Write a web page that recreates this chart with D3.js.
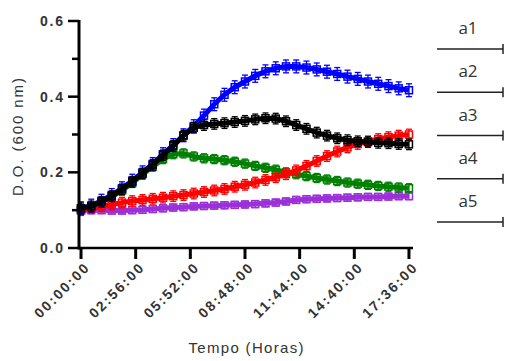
<!DOCTYPE html>
<html>
<head>
<meta charset="utf-8">
<script src="https://d3js.org/d3.v7.min.js"></script>
<style>
  html, body { margin: 0; padding: 0; background: #fff; }
  svg { display: block; }
</style>
</head>
<body>
<svg id="chart" width="505" height="361"></svg>
<script>
// ---- data (minutes since start) ----
const times = [0,33,66,99,132,165,198,231,264,297,330,363,396,429,462,495,528,561,594,627,660,693,726,759,792,825,858,891,924,957,990,1023,1056];

const blueValues   = [0.105,0.112,0.125,0.140,0.158,0.178,0.200,0.222,0.248,0.272,0.298,0.322,0.350,0.380,0.405,0.425,0.440,0.455,0.467,0.475,0.480,0.480,0.477,0.472,0.466,0.460,0.453,0.447,0.440,0.434,0.428,0.422,0.417];
const blackValues  = [0.105,0.110,0.122,0.137,0.155,0.175,0.197,0.220,0.245,0.270,0.297,0.318,0.325,0.328,0.330,0.333,0.336,0.340,0.343,0.342,0.335,0.325,0.315,0.305,0.297,0.290,0.285,0.282,0.280,0.278,0.277,0.275,0.274];
const greenValues  = [0.100,0.108,0.120,0.135,0.152,0.172,0.195,0.215,0.235,0.248,0.250,0.242,0.237,0.235,0.232,0.228,0.223,0.217,0.212,0.207,0.200,0.195,0.190,0.185,0.181,0.177,0.173,0.170,0.167,0.164,0.162,0.160,0.158];
const redValues    = [0.100,0.105,0.110,0.115,0.120,0.124,0.127,0.130,0.133,0.137,0.140,0.144,0.148,0.152,0.156,0.162,0.167,0.173,0.180,0.187,0.195,0.205,0.217,0.230,0.243,0.255,0.266,0.275,0.282,0.288,0.293,0.297,0.300];
const purpleValues = [0.100,0.100,0.100,0.099,0.099,0.100,0.101,0.103,0.105,0.107,0.108,0.110,0.111,0.112,0.113,0.114,0.115,0.116,0.118,0.120,0.123,0.127,0.129,0.130,0.131,0.132,0.133,0.134,0.135,0.135,0.136,0.137,0.137];

const seriesErrors = { purple: 0.009, green: 0.012, red: 0.014, blue: 0.017, black: 0.014 };

const xTickValues = [0,176,352,528,704,880,1056];
const xTickLabels = ["00:00:00","02:56:00","05:52:00","08:48:00","11:44:00","14:40:00","17:36:00"];
const yMajorTicks = [0,0.2,0.4,0.6];
const yMinorTicks = [0.1,0.3,0.5];
const legendLabels = ["a1","a2","a3","a4","a5"];

const series = [
  { name: "purple", color: "#9b30d9", values: purpleValues },
  { name: "green",  color: "#008000", values: greenValues },
  { name: "red",    color: "#ff0000", values: redValues },
  { name: "blue",   color: "#0000ff", values: blueValues },
  { name: "black",  color: "#000000", values: blackValues }
];

// ---- layout ----
const svg = d3.select("#chart");
const x = d3.scaleLinear().domain([-6.5, 1069]).range([79, 413]);
const y = d3.scaleLinear().domain([0, 0.6]).range([248, 21]);
const FONT = "'Liberation Sans', Arial, Helvetica, sans-serif";

// ---- series ----
const line = d3.line().x((d, i) => x(times[i])).y(d => y(d));
series.forEach(s => {
  const g = svg.append("g");
  const err = seriesErrors[s.name];
  g.append("path")
    .attr("d", line(s.values))
    .attr("fill", "none")
    .attr("stroke", s.color)
    .attr("stroke-width", 5);
  s.values.forEach((v, i) => {
    const cx = x(times[i]);
    g.append("line")
      .attr("x1", cx).attr("x2", cx)
      .attr("y1", y(v - err)).attr("y2", y(v + err))
      .attr("stroke", s.color).attr("stroke-width", 1.3);
    [v - err, v + err].forEach(e => {
      g.append("line")
        .attr("x1", cx - 3).attr("x2", cx + 3)
        .attr("y1", y(e)).attr("y2", y(e))
        .attr("stroke", s.color).attr("stroke-width", 1.3);
    });
    g.append("rect")
      .attr("x", cx - 3.5).attr("y", y(v) - 3.5)
      .attr("width", 7).attr("height", 7)
      .attr("fill", "none")
      .attr("stroke", s.color).attr("stroke-width", 1.5);
  });
});

// ---- axes ----
// Y axis
const yAxis = svg.append("g");
yAxis.append("line").attr("x1", 79).attr("x2", 79).attr("y1", y(0.6) - 1).attr("y2", y(0) + 1.5)
  .attr("stroke", "#000").attr("stroke-width", 3);
yMajorTicks.forEach(t => {
  yAxis.append("line").attr("x1", 68).attr("x2", 79).attr("y1", y(t)).attr("y2", y(t))
    .attr("stroke", "#000").attr("stroke-width", 2.5);
  yAxis.append("text").attr("x", 63).attr("y", y(t)).attr("dy", "0.36em")
    .attr("text-anchor", "end")
    .style("font-family", FONT).style("font-size", "14px").style("font-weight", "bold")
    .attr("textLength", 23).attr("lengthAdjust", "spacing")
    .attr("fill", "#333").text(d3.format(".1f")(t));
});
yMinorTicks.forEach(t => {
  yAxis.append("line").attr("x1", 72).attr("x2", 79).attr("y1", y(t)).attr("y2", y(t))
    .attr("stroke", "#000").attr("stroke-width", 2.5);
});

// X axis
const xAxis = svg.append("g");
xAxis.append("line").attr("x1", 78).attr("x2", 413).attr("y1", 248).attr("y2", 248)
  .attr("stroke", "#000").attr("stroke-width", 2.5);
xTickValues.forEach((t, i) => {
  const tx = x(t);
  xAxis.append("line").attr("x1", tx).attr("x2", tx).attr("y1", 248).attr("y2", 259)
    .attr("stroke", "#000").attr("stroke-width", 3);
  xAxis.append("text")
    .attr("transform", `translate(${tx + 5},${266}) rotate(-45)`)
    .attr("text-anchor", "end").attr("dy", "0.36em")
    .style("font-family", FONT).style("font-size", "14px").style("font-weight", "bold")
    .attr("textLength", 70).attr("lengthAdjust", "spacing")
    .attr("fill", "#333").text(xTickLabels[i]);
});

// Titles
svg.append("text")
  .attr("transform", `translate(18,137) rotate(-90)`)
  .attr("text-anchor", "middle").attr("dy", "0.36em")
  .style("font-family", FONT).style("font-size", "15px")
  .attr("textLength", 118).attr("lengthAdjust", "spacing")
  .attr("fill", "#333").text("D.O. (600 nm)");
svg.append("text")
  .attr("x", 246).attr("y", 353)
  .attr("text-anchor", "middle")
  .style("font-family", FONT).style("font-size", "15px")
  .attr("textLength", 115).attr("lengthAdjust", "spacing")
  .attr("fill", "#333").text("Tempo (Horas)");

// ---- legend ----
const legendY = d3.scalePoint().domain(legendLabels).range([49, 222]);
const legend = svg.append("g");
legendLabels.forEach(l => {
  const ly = legendY(l);
  legend.append("line").attr("x1", 437).attr("x2", 503).attr("y1", ly).attr("y2", ly)
    .attr("stroke", "#222").attr("stroke-width", 1.5);
  legend.append("line").attr("x1", 503).attr("x2", 503).attr("y1", ly - 5).attr("y2", ly + 5)
    .attr("stroke", "#222").attr("stroke-width", 1.5);
  legend.append("text").attr("x", 468).attr("y", ly - 21).attr("dy", "0.36em")
    .attr("text-anchor", "middle")
    .style("font-family", "'Open Sans', 'Liberation Sans', sans-serif").style("font-size", "17px")
    .attr("fill", "#333").text(l);
});
</script>
</body>
</html>
